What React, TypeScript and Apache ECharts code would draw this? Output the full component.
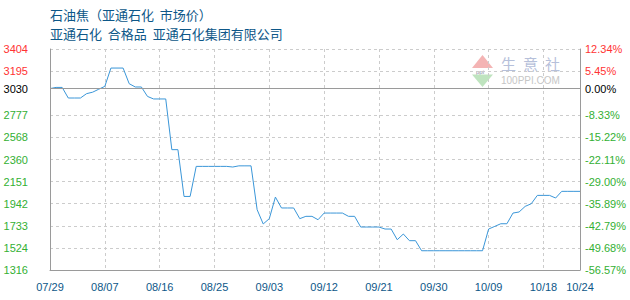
import React, { useEffect, useRef } from "react";
import * as echarts from "echarts";

// Daily market price of petroleum coke, 07/29 – 10/24
const startMonth = 7;
const startDay = 29;
const basePrice = 3030;
const prices = [
  3030, 3041, 3041, 2941, 2941, 2941, 2982, 2996, 3024, 3051,
  3224, 3224, 3224, 3076, 3045, 3045, 2956, 2932, 2932, 2932,
  2453, 2453, 2011, 2011, 2295, 2295, 2295, 2295, 2295, 2295,
  2289, 2300, 2300, 2300, 1886, 1751, 1801, 2005, 1902, 1902,
  1902, 1801, 1823, 1823, 1791, 1854, 1854, 1854, 1854, 1823,
  1823, 1722, 1722, 1722, 1722, 1703, 1703, 1602, 1656, 1593,
  1593, 1498, 1498, 1498, 1498, 1498, 1498, 1498, 1498, 1498,
  1498, 1498, 1703, 1728, 1753, 1753, 1854, 1864, 1917, 1942,
  2021, 2021, 2021, 1996, 2059, 2059, 2059, 2059,
];
const yTicks = [1316, 1524.8, 1733.6, 1942.4, 2151.2, 2360, 2568.8, 2777.6, 3030, 3195.2, 3404];
const leftTickLabels = ["1316", "1524", "1733", "1942", "2151", "2360", "2568", "2777", "3030", "3195", "3404"];
const rightTickLabels = ["-56.57%", "-49.68%", "-42.79%", "-35.89%", "-29.00%", "-22.11%", "-15.22%", "-8.33%", "0.00%", "5.45%", "12.34%"];
const titleText = "石油焦（亚通石化  市场价）";
const subtitleText = "亚通石化  合格品  亚通石化集团有限公司";

const monthLengths: Record<number, number> = { 7: 31, 8: 31, 9: 30, 10: 31 };

function buildDates(count: number): string[] {
  const out: string[] = [];
  let m = startMonth;
  let d = startDay;
  for (let i = 0; i < count; i++) {
    out.push(String(m).padStart(2, "0") + "/" + String(d).padStart(2, "0"));
    d++;
    if (d > monthLengths[m]) {
      d = 1;
      m++;
    }
  }
  return out;
}

const RED = "#ff3333";
const GREEN = "#33b033";
const BLUE_TEXT = "#0d5788";
const AXIS_GRAY = "#9a9a9a";
const labelFont = "'Liberation Sans', Arial, sans-serif";
const cjkFont = "'Noto Sans CJK SC', sans-serif";

function tickColor(v: any): string {
  const n = Number(v);
  if (Math.abs(n - basePrice) < 0.01) return "#000";
  return n > basePrice ? RED : GREEN;
}

function tickIndex(v: any): number {
  const n = Number(v);
  return yTicks.findIndex((t) => Math.abs(t - n) < 0.01);
}

export default function App() {
  const ref = useRef<HTMLDivElement>(null);

  useEffect(() => {
    if (!ref.current) return;
    const chart = echarts.init(ref.current, null, { renderer: "svg" });
    const dates = buildDates(prices.length);
    const last = dates.length - 1;

    const yAxisCommon = {
      type: "value" as const,
      min: yTicks[0],
      max: yTicks[yTicks.length - 1],
      axisTick: { show: false, customValues: yTicks },
    };

    chart.setOption({
      animation: false,
      backgroundColor: "#fff",
      grid: { left: 50, right: 50, top: 49, bottom: 30, containLabel: false },
      graphic: [
        {
          type: "text",
          left: 50,
          top: 8,
          silent: true,
          style: { text: titleText, fontSize: 13, fill: BLUE_TEXT, fontFamily: cjkFont },
        },
        {
          type: "text",
          left: 50,
          top: 27,
          silent: true,
          style: { text: subtitleText, fontSize: 13, fill: BLUE_TEXT, fontFamily: cjkFont },
        },
        {
          type: "group",
          silent: true,
          z: 0,
          children: [
            {
              type: "polygon",
              shape: { points: [[472, 68], [482.5, 55], [493, 68]] },
              style: { fill: "#f4b4b4" },
            },
            {
              type: "text",
              x: 476,
              y: 68.5,
              style: { text: "ppi", fontSize: 6, fill: "#8a8aa8", fontFamily: labelFont },
            },
            {
              type: "polygon",
              shape: { points: [[472, 74.5], [482.5, 87], [493, 74.5]] },
              style: { fill: "#bfe4bf" },
            },
            { type: "text", x: 501, y: 56, style: { text: "生", fontSize: 15, fill: "#b6c0da", fontFamily: cjkFont } },
            { type: "text", x: 523, y: 56, style: { text: "意", fontSize: 15, fill: "#b6c0da", fontFamily: cjkFont } },
            { type: "text", x: 545, y: 56, style: { text: "社", fontSize: 15, fill: "#b6c0da", fontFamily: cjkFont } },
            {
              type: "text",
              x: 501,
              y: 75,
              style: { text: "100PPI.COM", fontSize: 10, fill: "#c6c6c6", fontFamily: labelFont },
            },
          ],
        },
      ],
      xAxis: {
        type: "category",
        data: dates,
        boundaryGap: false,
        axisLine: { show: true, lineStyle: { color: AXIS_GRAY, width: 1 } },
        axisTick: { show: false },
        axisLabel: {
          interval: (i: number) => i % 9 === 0 || i === last,
          color: BLUE_TEXT,
          fontSize: 11,
          fontFamily: labelFont,
          margin: 11,
        },
        splitLine: {
          show: true,
          interval: (i: number) => i % 9 === 0 && i !== 0,
          lineStyle: { color: "#cccccc", type: [3, 3], width: 1 },
        },
      },
      yAxis: [
        {
          ...yAxisCommon,
          position: "left",
          axisLine: { show: true, lineStyle: { color: AXIS_GRAY, width: 1 } },
          axisLabel: {
            customValues: yTicks,
            margin: 22,
            fontSize: 11,
            fontFamily: labelFont,
            color: (v: any) => tickColor(v),
            formatter: (v: any) => leftTickLabels[tickIndex(v)] ?? "",
          },
          splitLine: { show: true, lineStyle: { color: "#cccccc", type: [3, 3], width: 1 } },
        },
        {
          ...yAxisCommon,
          position: "right",
          axisLine: { show: true, lineStyle: { color: AXIS_GRAY, width: 1 } },
          axisLabel: {
            customValues: yTicks,
            margin: 5,
            fontSize: 11,
            fontFamily: labelFont,
            color: (v: any) => tickColor(v),
            formatter: (v: any) => rightTickLabels[tickIndex(v)] ?? "",
          },
          splitLine: { show: false },
        },
      ],
      series: [
        {
          type: "line",
          data: prices,
          yAxisIndex: 0,
          showSymbol: false,
          symbol: "none",
          lineStyle: { color: "#3a96d8", width: 1 },
          z: 3,
          markLine: {
            silent: true,
            symbol: ["none", "none"],
            label: { show: false },
            lineStyle: { color: AXIS_GRAY, type: "solid", width: 1 },
            data: [{ yAxis: basePrice }],
          },
        },
      ],
    });

    return () => chart.dispose();
  }, []);

  return <div ref={ref} style={{ position: "absolute", left: 0, top: 0, width: 630, height: 300 }} />;
}
